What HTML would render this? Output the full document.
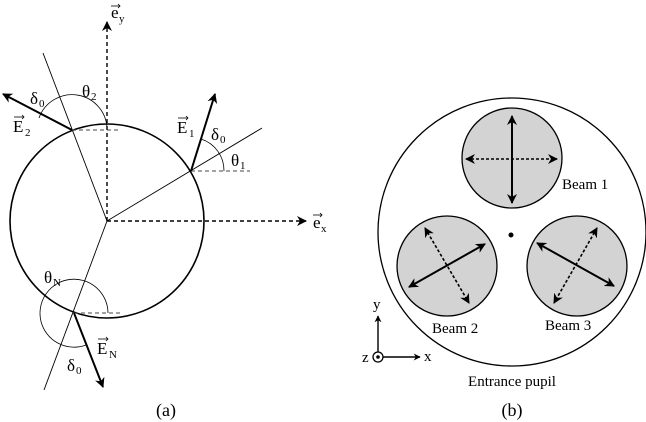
<!DOCTYPE html>
<html><head><meta charset="utf-8"><style>
html,body{margin:0;padding:0;background:#fff;}
svg{display:block;}
text{font-family:"Liberation Serif","DejaVu Serif","Times New Roman",serif;fill:#000;}
</style></head><body>
<svg width="646" height="422" viewBox="0 0 646 422" xmlns="http://www.w3.org/2000/svg" font-family="Liberation Serif, DejaVu Serif, serif">
<defs>
<marker id="ah" viewBox="0 0 10 10" refX="9" refY="5" markerWidth="10" markerHeight="10" markerUnits="userSpaceOnUse" orient="auto"><path d="M0,0 L10,5 L0,10 L3,5 z" fill="#000"/></marker>
<marker id="ah2" viewBox="0 0 10 10" refX="9" refY="5" markerWidth="10" markerHeight="10" markerUnits="userSpaceOnUse" orient="auto-start-reverse"><path d="M0,0 L10,5 L0,10 L3,5 z" fill="#000"/></marker>
<marker id="as" viewBox="0 0 10 10" refX="9" refY="5" markerWidth="7" markerHeight="7" markerUnits="userSpaceOnUse" orient="auto"><path d="M0,0 L10,5 L0,10 L3,5 z" fill="#000"/></marker>
</defs>
<!-- Panel a -->
<circle cx="107" cy="221" r="97" fill="none" stroke="#000" stroke-width="1.6"/>
<line x1="107" y1="221" x2="107" y2="22" stroke="#000" stroke-width="1.4" stroke-dasharray="4,3" marker-end="url(#ah)"/>
<line x1="107" y1="221" x2="306" y2="221" stroke="#000" stroke-width="1.4" stroke-dasharray="4,3" marker-end="url(#ah)"/>
<line x1="107" y1="221" x2="262" y2="128" stroke="#000" stroke-width="0.9"/>
<line x1="107" y1="221" x2="43" y2="53" stroke="#000" stroke-width="0.9"/>
<line x1="107" y1="221" x2="44" y2="390" stroke="#000" stroke-width="0.9"/>
<line x1="191" y1="171" x2="250" y2="171" stroke="#444" stroke-width="1" stroke-dasharray="4,3"/>
<line x1="72" y1="130" x2="120" y2="130" stroke="#444" stroke-width="1" stroke-dasharray="4,3"/>
<line x1="74" y1="313" x2="121" y2="313" stroke="#444" stroke-width="1" stroke-dasharray="4,3"/>
<line x1="191" y1="171" x2="215" y2="94" stroke="#000" stroke-width="2" marker-end="url(#ah)"/>
<line x1="72" y1="130" x2="3" y2="94" stroke="#000" stroke-width="2" marker-end="url(#ah)"/>
<line x1="74" y1="313" x2="103" y2="387" stroke="#000" stroke-width="2" marker-end="url(#ah)"/>
<path d="M224,171 A33,33 0 0 0 201,139" fill="none" stroke="#000" stroke-width="0.8"/>
<path d="M107,130 A35,35 0 0 0 39,118" fill="none" stroke="#000" stroke-width="0.8"/>
<path d="M108,313 A34,34 0 1 0 86,345" fill="none" stroke="#000" stroke-width="0.8"/>
<text x="111" y="18" font-size="17">e</text><text x="119" y="22" font-size="11">y</text>
<path d="M111,6 L120,6" stroke="#000" stroke-width="0.8"/><path d="M118,4 L120,6 L118,8" fill="none" stroke="#000" stroke-width="0.8"/>
<text x="313" y="228" font-size="17">e</text><text x="321" y="232" font-size="11">x</text>
<path d="M313,215 L322,215" stroke="#000" stroke-width="0.8"/><path d="M320,213 L322,215 L320,217" fill="none" stroke="#000" stroke-width="0.8"/>
<text x="13" y="132" font-size="17">E</text><text x="25" y="136" font-size="11">2</text>
<path d="M14,117 L24,117" stroke="#000" stroke-width="0.8"/><path d="M22,115 L24,117 L22,119" fill="none" stroke="#000" stroke-width="0.8"/>
<text x="177" y="133" font-size="17">E</text><text x="189" y="137" font-size="11">1</text>
<path d="M178,118 L188,118" stroke="#000" stroke-width="0.8"/><path d="M186,116 L188,118 L186,120" fill="none" stroke="#000" stroke-width="0.8"/>
<text x="97" y="354" font-size="17">E</text><text x="109" y="358" font-size="11">N</text>
<path d="M98,339 L108,339" stroke="#000" stroke-width="0.8"/><path d="M106,337 L108,339 L106,341" fill="none" stroke="#000" stroke-width="0.8"/>
<text x="30" y="104" font-size="17">δ</text><text x="39" y="107" font-size="11">0</text>
<text x="82" y="97" font-size="17">θ</text><text x="91" y="100" font-size="11">2</text>
<text x="211" y="140" font-size="17">δ</text><text x="220" y="143" font-size="11">0</text>
<text x="231" y="166" font-size="17">θ</text><text x="240" y="169" font-size="11">1</text>
<text x="44" y="283" font-size="17">θ</text><text x="53" y="286" font-size="11">N</text>
<text x="67" y="371" font-size="17">δ</text><text x="76" y="374" font-size="11">0</text>
<text x="166" y="416" font-size="18" text-anchor="middle">(a)</text>
<!-- Panel b -->
<circle cx="512" cy="232" r="134" fill="none" stroke="#000" stroke-width="1.3"/>
<circle cx="512" cy="158" r="50" fill="#d3d3d3" stroke="#000" stroke-width="1.3"/>
<circle cx="447" cy="266" r="50" fill="#d3d3d3" stroke="#000" stroke-width="1.3"/>
<circle cx="577" cy="266" r="50" fill="#d3d3d3" stroke="#000" stroke-width="1.3"/>
<circle cx="511" cy="235" r="2.5" fill="#000"/>
<line x1="512" y1="116" x2="512" y2="203" stroke="#000" stroke-width="2" marker-start="url(#ah2)" marker-end="url(#ah2)"/>
<line x1="466" y1="159" x2="557" y2="159" stroke="#000" stroke-width="1.6" stroke-dasharray="3,2" marker-start="url(#ah2)" marker-end="url(#ah2)"/>
<line x1="409" y1="287" x2="485" y2="244" stroke="#000" stroke-width="2" marker-start="url(#ah2)" marker-end="url(#ah2)"/>
<line x1="425" y1="228" x2="469" y2="303" stroke="#000" stroke-width="1.6" stroke-dasharray="3,2" marker-start="url(#ah2)" marker-end="url(#ah2)"/>
<line x1="537" y1="243" x2="614" y2="286" stroke="#000" stroke-width="2" marker-start="url(#ah2)" marker-end="url(#ah2)"/>
<line x1="597" y1="228" x2="554" y2="303" stroke="#000" stroke-width="1.6" stroke-dasharray="3,2" marker-start="url(#ah2)" marker-end="url(#ah2)"/>
<text x="562" y="189" font-size="15">Beam 1</text>
<text x="432" y="333" font-size="15">Beam 2</text>
<text x="545" y="330" font-size="15">Beam 3</text>
<text x="512" y="386" font-size="15" text-anchor="middle">Entrance pupil</text>
<text x="512" y="416" font-size="18" text-anchor="middle">(b)</text>
<line x1="378" y1="352" x2="378" y2="316" stroke="#000" stroke-width="1.4" marker-end="url(#as)"/>
<line x1="383" y1="357" x2="420" y2="357" stroke="#000" stroke-width="1.4" marker-end="url(#as)"/>
<circle cx="378" cy="357" r="5" fill="#fff" stroke="#000" stroke-width="1.3"/>
<circle cx="378" cy="357" r="1.8" fill="#000"/>
<text x="373" y="309" font-size="15">y</text>
<text x="424" y="361" font-size="15">x</text>
<text x="362" y="362" font-size="15">z</text>
</svg>
</body></html>
